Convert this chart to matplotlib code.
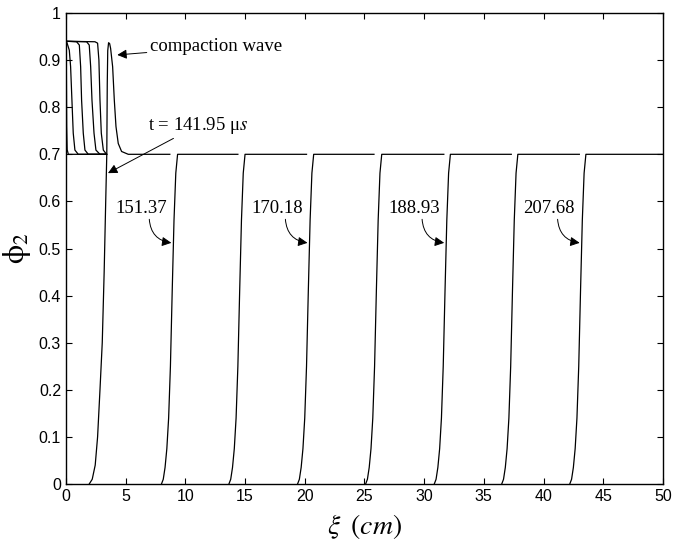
import matplotlib
matplotlib.use("Agg")
import matplotlib.pyplot as plt
import numpy as np

plt.rcParams['mathtext.fontset'] = 'stix'
plt.rcParams['font.family'] = ['Liberation Sans', 'DejaVu Sans']

# compaction profiles near the left end (xi in cm, phi_2)
comp_x = [
    [0.0, 0.03, 0.06, 0.10, 0.20, 3.40],
    [0.0, 0.06, 0.28, 0.39, 0.50, 0.61, 0.75, 1.03, 3.40],
    [0.0, 0.89, 1.12, 1.23, 1.31, 1.45, 1.59, 1.87, 3.40],
    [0.0, 1.73, 1.95, 2.07, 2.18, 2.35, 2.51, 2.85, 3.40],
    [0.0, 2.43, 2.65, 2.76, 2.85, 2.96, 3.13, 3.40],
]
comp_phi = [
    [0.94, 0.90, 0.76, 0.71, 0.70, 0.70],
    [0.94, 0.939, 0.921, 0.886, 0.815, 0.745, 0.709, 0.70, 0.70],
    [0.94, 0.939, 0.932, 0.886, 0.815, 0.745, 0.709, 0.70, 0.70],
    [0.94, 0.939, 0.932, 0.886, 0.815, 0.745, 0.709, 0.70, 0.70],
    [0.94, 0.939, 0.936, 0.900, 0.815, 0.745, 0.709, 0.70],
]

# t = 141.95 us profile: reaction front followed by the compaction pulse
first_x = [1.95, 2.2, 2.45, 2.65, 2.85, 3.04, 3.2, 3.33, 3.42, 3.46, 3.5,
           3.57, 3.66, 3.74, 3.91, 4.05, 4.19, 4.38, 4.66, 5.22, 8.7]
first_phi = [0.0, 0.01, 0.04, 0.10, 0.20, 0.30, 0.45, 0.60, 0.70, 0.85, 0.92,
             0.937, 0.935, 0.925, 0.886, 0.815, 0.759, 0.723, 0.706, 0.70, 0.70]

# later fronts: shape of the rise measured from its foot
rise_dx = [0.0, 0.15, 0.30, 0.45, 0.60, 0.75, 0.90, 1.05, 1.20, 1.35]
rise_phi = [0.0, 0.01, 0.035, 0.075, 0.14, 0.25, 0.41, 0.56, 0.66, 0.70]
front_feet = [8.0, 13.65, 19.4, 25.1, 30.85, 36.5, 42.2]
plateau_ends = [14.4, 20.15, 25.8, 31.65, 37.3, 43.0, 50.0]

times = ['151.37', '170.18', '188.93', '207.68']
labelled = [0, 2, 4, 6]

fig = plt.figure(figsize=(6.73, 5.47), dpi=100)
ax = fig.add_axes([0.098, 0.1152, 0.887, 0.861])

lw = 0.9
for xs, ps in zip(comp_x, comp_phi):
    ax.plot(xs, ps, 'k-', lw=lw)
ax.plot(first_x, first_phi, 'k-', lw=lw)

rise_dx = np.array(rise_dx)
for foot, end in zip(front_feet, plateau_ends):
    xs = list(foot + rise_dx) + [end]
    ps = list(rise_phi) + [0.70]
    ax.plot(xs, ps, 'k-', lw=lw)

arrow = dict(arrowstyle='-|>', color='k', lw=0.7, mutation_scale=14,
             shrinkA=0, shrinkB=0)
serif = dict(family=['Liberation Serif', 'DejaVu Serif'], fontsize=13.5)

ax.annotate('compaction wave', xy=(4.3, 0.911), xytext=(7.0, 0.928),
            va='center', ha='left', arrowprops=arrow, **serif)
ax.annotate('t = 141.95 μ$s$', xy=(3.52, 0.66), xytext=(6.9, 0.762),
            va='center', ha='left', arrowprops=arrow, **serif)

for i, lab in zip(labelled, times):
    xf = front_feet[i] + 0.98
    ax.annotate(lab, xy=(xf - 0.15, 0.512), xytext=(xf - 2.7, 0.585),
                va='center', ha='center', **serif)
    ax.annotate('', xy=(xf - 0.15, 0.512), xytext=(xf - 2.0, 0.562),
                arrowprops=dict(arrow, connectionstyle='arc3,rad=0.4'))

ax.set_xlim(0, 50)
ax.set_ylim(0, 1)
ax.set_xticks(np.arange(0, 51, 5))
ax.set_yticks(np.arange(0, 1.01, 0.1))
ax.set_yticklabels(['0', '0.1', '0.2', '0.3', '0.4', '0.5', '0.6', '0.7',
                    '0.8', '0.9', '1'])
ax.tick_params(direction='in', top=True, right=True, length=4, width=0.8,
               labelsize=11.5)
for s in ax.spines.values():
    s.set_linewidth(1.0)

ax.set_xlabel(r'$\xi\;\;(cm)$', fontsize=20, labelpad=6)
ax.set_ylabel(r'$\mathrm{\phi}_2$', fontsize=22, labelpad=4)

fig.savefig('out.png', dpi=100)
